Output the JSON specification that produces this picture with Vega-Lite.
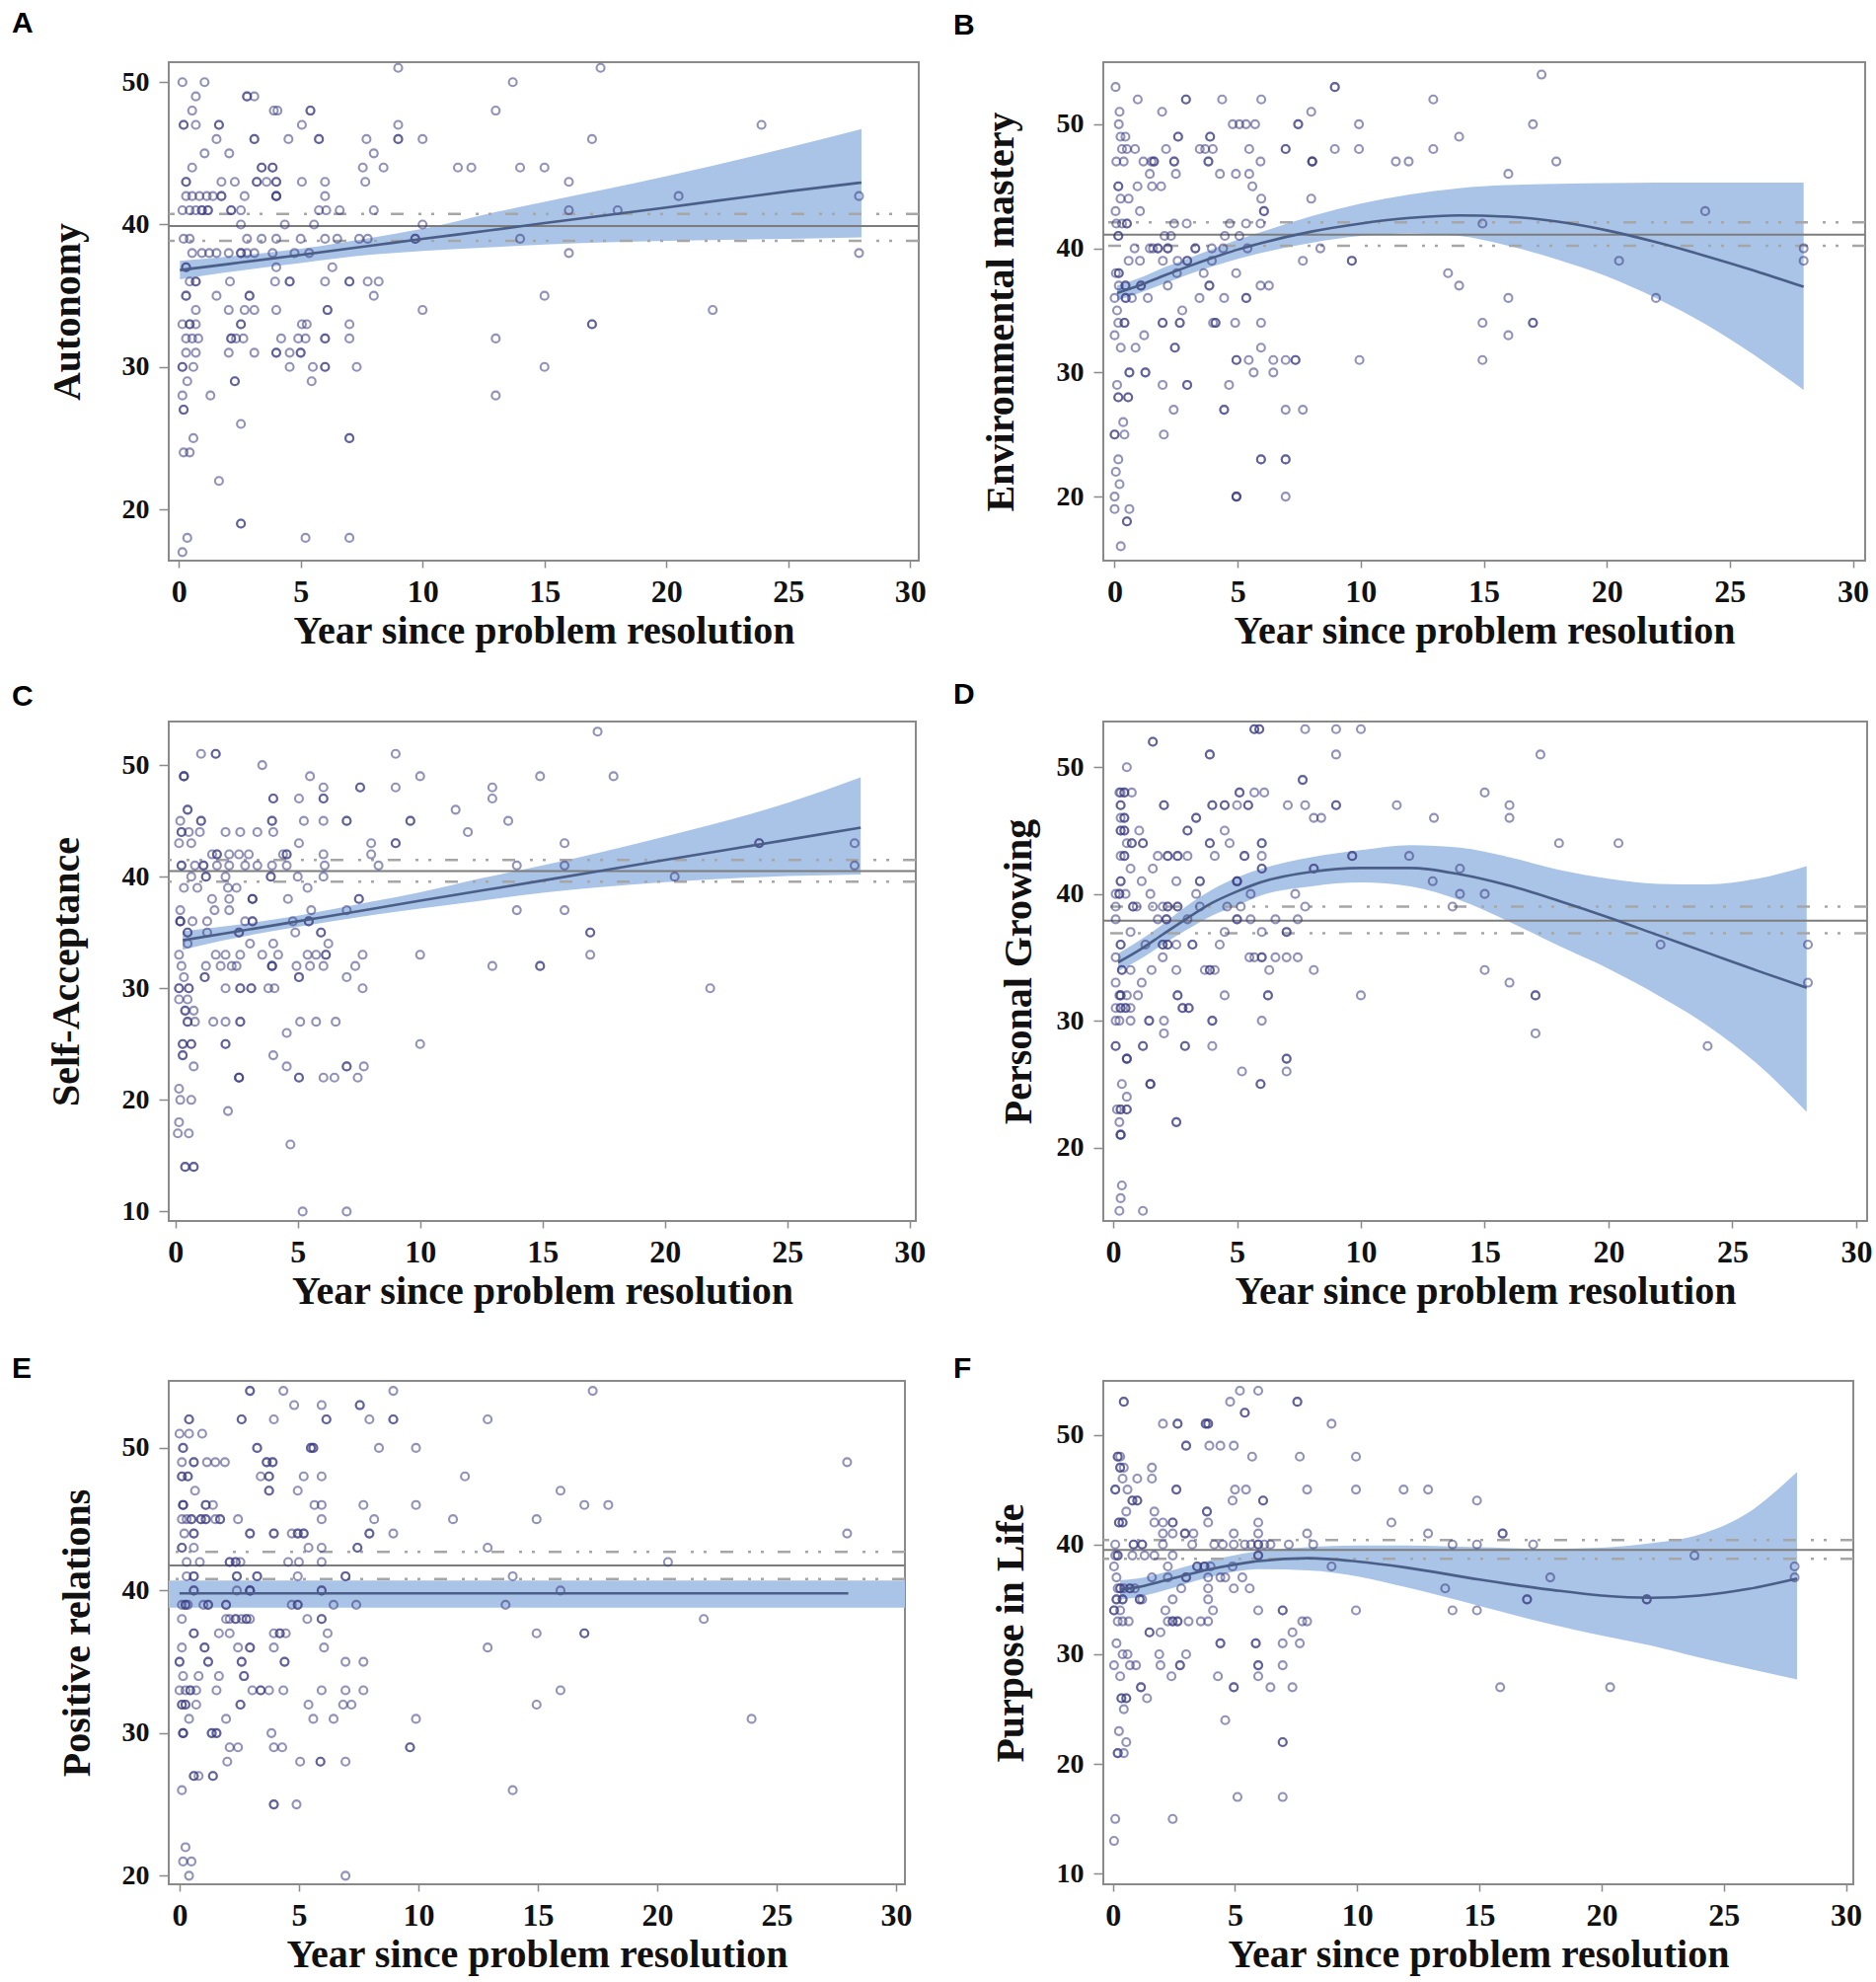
{
  "$schema": "https://vega.github.io/schema/vega-lite/v6.json",
  "autosize": {"type": "none"},
  "padding": {"left": 171, "top": 63, "right": 1730, "bottom": 1945},
  "columns": 2,
  "bounds": "flush",
  "align": "all",
  "spacing": {"row": 158, "column": 173},
  "config": {
    "view": {"stroke": "#8a8a8a", "strokeWidth": 2},
    "axis": {"grid": false, "domain": false, "tickColor": "#8a8a8a", "tickWidth": 1.5,
      "labelFont": "Liberation Serif", "labelFontWeight": "bold", "labelColor": "#111111",
      "titleFont": "Liberation Serif", "titleFontWeight": "bold", "titleColor": "#111111", "titleFontSize": 40,
      "labelFlush": false, "labelOverlap": false},
    "axisX": {"labelFontSize": 32, "tickSize": 7, "labelPadding": 9, "titlePadding": 4},
    "axisY": {"labelFontSize": 28, "tickSize": 10, "labelPadding": 10},
    "title": {"font": "Liberation Sans", "fontSize": 30, "fontWeight": "bold", "color": "#000000", "anchor": "start", "frame": "group"},
    "point": {"shape": "circle", "filled": false, "size": 64, "strokeWidth": 2.1, "color": "#3a3a80", "opacity": 0.55},
    "area": {"color": "#a9c4e6", "opacity": 1},
    "line": {"color": "#4a5e88", "strokeWidth": 2.6}
  },
  "datasets": {
    "A": [
      {"x":9.0,"y":51},{"x":17.3,"y":51},
      {"x":0.15,"y":50},{"x":1.06,"y":50},{"x":13.7,"y":50},
      {"x":0.7,"y":49},{"x":2.8,"y":49},{"x":2.8,"y":49},{"x":3.1,"y":49},
      {"x":0.55,"y":48},{"x":3.9,"y":48},{"x":4.05,"y":48},{"x":5.4,"y":48},{"x":5.4,"y":48},{"x":13.0,"y":48},
      {"x":0.2,"y":47},{"x":0.2,"y":47},{"x":0.7,"y":47},{"x":1.65,"y":47},{"x":1.65,"y":47},{"x":5.05,"y":47},{"x":9.0,"y":47},{"x":23.9,"y":47},
      {"x":1.55,"y":46},{"x":3.1,"y":46},{"x":3.1,"y":46},{"x":4.5,"y":46},{"x":5.75,"y":46},{"x":5.75,"y":46},{"x":7.7,"y":46},{"x":9.0,"y":46},{"x":9.0,"y":46},{"x":10.0,"y":46},{"x":16.95,"y":46},
      {"x":1.06,"y":45},{"x":2.07,"y":45},{"x":8.0,"y":45},
      {"x":0.55,"y":44},{"x":3.4,"y":44},{"x":3.4,"y":44},{"x":3.85,"y":44},{"x":3.85,"y":44},{"x":7.55,"y":44},{"x":8.4,"y":44},{"x":11.45,"y":44},{"x":12.0,"y":44},{"x":14.0,"y":44},{"x":15.0,"y":44},
      {"x":0.3,"y":43},{"x":0.3,"y":43},{"x":1.75,"y":43},{"x":2.3,"y":43},{"x":3.2,"y":43},{"x":3.2,"y":43},{"x":3.6,"y":43},{"x":4.0,"y":43},{"x":4.0,"y":43},{"x":5.05,"y":43},{"x":6.0,"y":43},{"x":7.65,"y":43},{"x":16.0,"y":43},
      {"x":0.3,"y":42},{"x":0.55,"y":42},{"x":0.85,"y":42},{"x":1.15,"y":42},{"x":1.4,"y":42},{"x":1.75,"y":42},{"x":1.75,"y":42},{"x":2.7,"y":42},{"x":4.0,"y":42},{"x":4.0,"y":42},{"x":4.0,"y":42},{"x":6.0,"y":42},{"x":20.5,"y":42},{"x":27.9,"y":42},
      {"x":0.15,"y":41},{"x":0.45,"y":41},{"x":0.7,"y":41},{"x":0.95,"y":41},{"x":0.95,"y":41},{"x":1.2,"y":41},{"x":1.2,"y":41},{"x":2.15,"y":41},{"x":2.15,"y":41},{"x":2.55,"y":41},{"x":5.75,"y":41},{"x":6.05,"y":41},{"x":6.6,"y":41},{"x":8.0,"y":41},{"x":16.0,"y":41},{"x":18.0,"y":41},
      {"x":2.55,"y":40},{"x":4.35,"y":40},{"x":5.55,"y":40},{"x":10.0,"y":40},
      {"x":0.2,"y":39},{"x":0.45,"y":39},{"x":2.8,"y":39},{"x":3.4,"y":39},{"x":4.0,"y":39},{"x":5.0,"y":39},{"x":6.0,"y":39},{"x":6.5,"y":39},{"x":7.4,"y":39},{"x":7.75,"y":39},{"x":9.7,"y":39},{"x":9.7,"y":39},{"x":14.0,"y":39},
      {"x":0.55,"y":38},{"x":0.95,"y":38},{"x":1.25,"y":38},{"x":1.55,"y":38},{"x":2.05,"y":38},{"x":2.55,"y":38},{"x":2.55,"y":38},{"x":2.8,"y":38},{"x":3.1,"y":38},{"x":3.85,"y":38},{"x":4.75,"y":38},{"x":5.35,"y":38},{"x":16.0,"y":38},{"x":27.9,"y":38},
      {"x":0.3,"y":37},{"x":0.3,"y":37},{"x":4.0,"y":37},{"x":6.3,"y":37},
      {"x":0.45,"y":36},{"x":0.7,"y":36},{"x":0.7,"y":36},{"x":2.1,"y":36},{"x":3.95,"y":36},{"x":4.55,"y":36},{"x":4.55,"y":36},{"x":6.0,"y":36},{"x":7.0,"y":36},{"x":7.0,"y":36},{"x":7.75,"y":36},{"x":8.2,"y":36},
      {"x":0.3,"y":35},{"x":0.3,"y":35},{"x":1.55,"y":35},{"x":2.9,"y":35},{"x":2.9,"y":35},{"x":8.0,"y":35},{"x":15.0,"y":35},
      {"x":0.7,"y":34},{"x":2.05,"y":34},{"x":2.7,"y":34},{"x":3.1,"y":34},{"x":4.0,"y":34},{"x":6.1,"y":34},{"x":6.1,"y":34},{"x":10.0,"y":34},{"x":21.9,"y":34},
      {"x":0.15,"y":33},{"x":0.45,"y":33},{"x":0.45,"y":33},{"x":0.7,"y":33},{"x":2.55,"y":33},{"x":2.55,"y":33},{"x":5.05,"y":33},{"x":5.25,"y":33},{"x":7.0,"y":33},{"x":16.95,"y":33},{"x":16.95,"y":33},
      {"x":0.3,"y":32},{"x":0.55,"y":32},{"x":0.8,"y":32},{"x":2.15,"y":32},{"x":2.15,"y":32},{"x":2.35,"y":32},{"x":2.65,"y":32},{"x":4.2,"y":32},{"x":4.9,"y":32},{"x":5.2,"y":32},{"x":6.0,"y":32},{"x":6.0,"y":32},{"x":7.0,"y":32},{"x":13.0,"y":32},
      {"x":0.3,"y":31},{"x":0.7,"y":31},{"x":2.05,"y":31},{"x":3.1,"y":31},{"x":4.0,"y":31},{"x":4.0,"y":31},{"x":4.55,"y":31},{"x":5.0,"y":31},{"x":5.0,"y":31},
      {"x":0.15,"y":30},{"x":0.15,"y":30},{"x":0.6,"y":30},{"x":4.55,"y":30},{"x":5.5,"y":30},{"x":6.0,"y":30},{"x":6.0,"y":30},{"x":7.3,"y":30},{"x":15.0,"y":30},
      {"x":0.35,"y":29},{"x":2.3,"y":29},{"x":2.3,"y":29},{"x":5.45,"y":29},
      {"x":0.15,"y":28},{"x":1.3,"y":28},{"x":13.0,"y":28},
      {"x":0.2,"y":27},{"x":0.2,"y":27},
      {"x":2.55,"y":26},
      {"x":0.6,"y":25},{"x":7.0,"y":25},{"x":7.0,"y":25},
      {"x":0.2,"y":24},{"x":0.45,"y":24},
      {"x":1.65,"y":22},
      {"x":2.55,"y":19},{"x":2.55,"y":19},
      {"x":0.35,"y":18},{"x":5.2,"y":18},{"x":7.0,"y":18},
      {"x":0.15,"y":17}
    ],
    "Afit": [
      {"x":0.05,"y":36.8,"lo":36.15,"hi":37.45},{"x":2,"y":37.22,"lo":36.65,"hi":37.75},{"x":5,"y":37.87,"lo":37.3,"hi":38.3},
      {"x":8,"y":38.54,"lo":37.9,"hi":39.1},{"x":10,"y":38.99,"lo":38.15,"hi":39.7},{"x":12.8,"y":39.6,"lo":38.4,"hi":40.8},
      {"x":15,"y":40.1,"lo":38.6,"hi":41.6},{"x":20,"y":41.2,"lo":38.85,"hi":43.4},{"x":25,"y":42.33,"lo":39.0,"hi":45.4},
      {"x":28,"y":42.95,"lo":39.1,"hi":46.7}
    ],
    "Aref": [{"kind":"mean","y":39.9},{"kind":"ci","y":40.75},{"kind":"ci","y":38.85}],
    "B": [
      {"x":17.35,"y":54},
      {"x":0.04,"y":53},{"x":8.95,"y":53},{"x":8.95,"y":53},
      {"x":0.94,"y":52},{"x":2.9,"y":52},{"x":2.9,"y":52},{"x":4.37,"y":52},{"x":5.96,"y":52},{"x":12.95,"y":52},
      {"x":0.2,"y":51},{"x":1.93,"y":51},{"x":7.99,"y":51},
      {"x":0.17,"y":50},{"x":4.8,"y":50},{"x":5.07,"y":50},{"x":5.34,"y":50},{"x":5.71,"y":50},{"x":7.46,"y":50},{"x":7.46,"y":50},{"x":9.93,"y":50},{"x":17.0,"y":50},
      {"x":0.24,"y":49},{"x":0.44,"y":49},{"x":2.58,"y":49},{"x":2.58,"y":49},{"x":3.88,"y":49},{"x":3.88,"y":49},{"x":14.0,"y":49},
      {"x":0.3,"y":48},{"x":0.5,"y":48},{"x":0.83,"y":48},{"x":2.09,"y":48},{"x":3.46,"y":48},{"x":3.68,"y":48},{"x":3.99,"y":48},{"x":5.47,"y":48},{"x":6.95,"y":48},{"x":6.95,"y":48},{"x":8.95,"y":48},{"x":9.93,"y":48},{"x":12.95,"y":48},
      {"x":0.07,"y":47},{"x":0.37,"y":47},{"x":1.17,"y":47},{"x":1.5,"y":47},{"x":1.6,"y":47},{"x":1.6,"y":47},{"x":2.42,"y":47},{"x":2.42,"y":47},{"x":3.81,"y":47},{"x":3.81,"y":47},{"x":5.93,"y":47},{"x":8.03,"y":47},{"x":8.03,"y":47},{"x":8.03,"y":47},{"x":11.43,"y":47},{"x":11.95,"y":47},{"x":17.95,"y":47},
      {"x":1.43,"y":46},{"x":2.49,"y":46},{"x":4.28,"y":46},{"x":4.93,"y":46},{"x":5.47,"y":46},{"x":16.0,"y":46},
      {"x":0.15,"y":45},{"x":0.15,"y":45},{"x":0.93,"y":45},{"x":1.52,"y":45},{"x":1.89,"y":45},{"x":5.6,"y":45},
      {"x":0.24,"y":44},{"x":0.57,"y":44},{"x":5.96,"y":44},{"x":7.99,"y":44},
      {"x":0.04,"y":43},{"x":1.03,"y":43},{"x":6.07,"y":43},{"x":6.07,"y":43},{"x":24.0,"y":43},
      {"x":0.07,"y":42},{"x":0.3,"y":42},{"x":0.5,"y":42},{"x":0.5,"y":42},{"x":2.42,"y":42},{"x":2.93,"y":42},{"x":4.68,"y":42},{"x":5.34,"y":42},{"x":5.93,"y":42},{"x":14.95,"y":42},
      {"x":0.15,"y":41},{"x":0.15,"y":41},{"x":2.03,"y":41},{"x":2.29,"y":41},{"x":4.48,"y":41},{"x":5.07,"y":41},
      {"x":0.81,"y":40},{"x":1.43,"y":40},{"x":1.56,"y":40},{"x":1.76,"y":40},{"x":1.76,"y":40},{"x":2.16,"y":40},{"x":2.16,"y":40},{"x":3.28,"y":40},{"x":3.28,"y":40},{"x":3.95,"y":40},{"x":4.41,"y":40},{"x":5.4,"y":40},{"x":8.36,"y":40},{"x":28.0,"y":40},
      {"x":0.57,"y":39},{"x":1.03,"y":39},{"x":1.96,"y":39},{"x":2.56,"y":39},{"x":2.95,"y":39},{"x":2.95,"y":39},{"x":3.95,"y":39},{"x":7.65,"y":39},{"x":9.64,"y":39},{"x":9.64,"y":39},{"x":20.5,"y":39},{"x":28.0,"y":39},
      {"x":0.05,"y":38},{"x":0.17,"y":38},{"x":0.17,"y":38},{"x":2.53,"y":38},{"x":3.62,"y":38},{"x":4.94,"y":38},{"x":13.55,"y":38},
      {"x":0.17,"y":37},{"x":0.44,"y":37},{"x":0.44,"y":37},{"x":1.07,"y":37},{"x":1.07,"y":37},{"x":2.16,"y":37},{"x":3.85,"y":37},{"x":3.85,"y":37},{"x":5.93,"y":37},{"x":6.27,"y":37},{"x":14.0,"y":37},
      {"x":0.0,"y":36},{"x":0.45,"y":36},{"x":0.45,"y":36},{"x":0.7,"y":36},{"x":1.35,"y":36},{"x":3.45,"y":36},{"x":4.45,"y":36},{"x":5.35,"y":36},{"x":5.35,"y":36},{"x":16.0,"y":36},{"x":22.0,"y":36},
      {"x":0.1,"y":35},{"x":2.75,"y":35},
      {"x":0.15,"y":34},{"x":0.4,"y":34},{"x":0.4,"y":34},{"x":1.95,"y":34},{"x":1.95,"y":34},{"x":2.65,"y":34},{"x":2.65,"y":34},{"x":4.0,"y":34},{"x":4.1,"y":34},{"x":4.1,"y":34},{"x":4.9,"y":34},{"x":5.95,"y":34},{"x":14.95,"y":34},{"x":17.0,"y":34},{"x":17.0,"y":34},
      {"x":0.0,"y":33},{"x":1.2,"y":33},{"x":16.0,"y":33},
      {"x":0.25,"y":32},{"x":0.85,"y":32},{"x":2.45,"y":32},{"x":2.45,"y":32},{"x":5.95,"y":32},
      {"x":4.95,"y":31},{"x":4.95,"y":31},{"x":5.45,"y":31},{"x":6.45,"y":31},{"x":6.95,"y":31},{"x":7.35,"y":31},{"x":7.35,"y":31},{"x":9.95,"y":31},{"x":14.95,"y":31},
      {"x":0.6,"y":30},{"x":0.6,"y":30},{"x":1.25,"y":30},{"x":1.25,"y":30},{"x":5.65,"y":30},{"x":6.45,"y":30},
      {"x":0.1,"y":29},{"x":1.95,"y":29},{"x":2.95,"y":29},{"x":2.95,"y":29},{"x":4.65,"y":29},
      {"x":0.15,"y":28},{"x":0.15,"y":28},{"x":0.55,"y":28},{"x":0.55,"y":28},
      {"x":2.4,"y":27},{"x":4.45,"y":27},{"x":4.45,"y":27},{"x":6.95,"y":27},{"x":7.65,"y":27},
      {"x":0.35,"y":26},
      {"x":0.0,"y":25},{"x":0.0,"y":25},{"x":0.4,"y":25},{"x":2.0,"y":25},
      {"x":0.15,"y":23},{"x":5.95,"y":23},{"x":5.95,"y":23},{"x":6.95,"y":23},{"x":6.95,"y":23},
      {"x":0.05,"y":22},
      {"x":0.2,"y":21},
      {"x":0.0,"y":20},{"x":4.95,"y":20},{"x":4.95,"y":20},{"x":4.95,"y":20},{"x":6.95,"y":20},
      {"x":0.0,"y":19},{"x":0.6,"y":19},
      {"x":0.5,"y":18},{"x":0.5,"y":18},
      {"x":0.25,"y":16}
    ],
    "Bfit": [
      {"x":0.1,"y":36.4,"lo":35.8,"hi":37.0},{"x":1,"y":37.0,"lo":36.4,"hi":37.6},{"x":2,"y":37.8,"lo":37.15,"hi":38.45},
      {"x":3,"y":38.55,"lo":37.9,"hi":39.2},{"x":4,"y":39.25,"lo":38.55,"hi":39.95},{"x":5,"y":39.9,"lo":39.15,"hi":40.7},
      {"x":6,"y":40.45,"lo":39.65,"hi":41.35},{"x":8,"y":41.35,"lo":40.45,"hi":42.6},{"x":10,"y":42.0,"lo":41.0,"hi":43.6},
      {"x":12,"y":42.45,"lo":41.2,"hi":44.35},{"x":14,"y":42.65,"lo":41.0,"hi":44.85},{"x":16,"y":42.55,"lo":40.2,"hi":45.1},
      {"x":18,"y":42.15,"lo":39.1,"hi":45.2},{"x":20,"y":41.45,"lo":37.75,"hi":45.25},{"x":22,"y":40.5,"lo":36.0,"hi":45.3},
      {"x":24,"y":39.4,"lo":33.9,"hi":45.3},{"x":26,"y":38.2,"lo":31.4,"hi":45.3},{"x":28,"y":36.9,"lo":28.6,"hi":45.3}
    ],
    "Bref": [{"kind":"mean","y":41.1},{"kind":"ci","y":42.1},{"kind":"ci","y":40.2}],
    "C": [
      {"x":17.25,"y":53},
      {"x":1.05,"y":51},{"x":1.65,"y":51},{"x":1.65,"y":51},{"x":9.0,"y":51},
      {"x":3.55,"y":50},
      {"x":0.35,"y":49},{"x":0.35,"y":49},{"x":0.35,"y":49},{"x":5.5,"y":49},{"x":10.0,"y":49},{"x":14.9,"y":49},{"x":17.9,"y":49},
      {"x":6.05,"y":48},{"x":7.55,"y":48},{"x":7.55,"y":48},{"x":9.0,"y":48},{"x":12.95,"y":48},
      {"x":4.0,"y":47},{"x":4.0,"y":47},{"x":5.05,"y":47},{"x":6.05,"y":47},{"x":6.05,"y":47},{"x":12.95,"y":47},
      {"x":0.5,"y":46},{"x":0.5,"y":46},{"x":11.45,"y":46},
      {"x":0.2,"y":45},{"x":1.05,"y":45},{"x":1.05,"y":45},{"x":3.95,"y":45},{"x":3.95,"y":45},{"x":5.25,"y":45},{"x":6.05,"y":45},{"x":7.0,"y":45},{"x":7.0,"y":45},{"x":9.6,"y":45},{"x":9.6,"y":45},{"x":13.6,"y":45},
      {"x":0.25,"y":44},{"x":0.25,"y":44},{"x":0.55,"y":44},{"x":1.0,"y":44},{"x":2.05,"y":44},{"x":2.65,"y":44},{"x":3.35,"y":44},{"x":4.0,"y":44},{"x":11.95,"y":44},
      {"x":0.15,"y":43},{"x":0.65,"y":43},{"x":5.05,"y":43},{"x":8.0,"y":43},{"x":9.0,"y":43},{"x":9.0,"y":43},{"x":15.9,"y":43},{"x":23.85,"y":43},{"x":23.85,"y":43},{"x":27.75,"y":43},
      {"x":1.5,"y":42},{"x":1.7,"y":42},{"x":1.7,"y":42},{"x":2.2,"y":42},{"x":2.6,"y":42},{"x":3.0,"y":42},{"x":4.4,"y":42},{"x":4.55,"y":42},{"x":4.55,"y":42},{"x":6.05,"y":42},{"x":8.0,"y":42},
      {"x":0.25,"y":41},{"x":0.25,"y":41},{"x":0.8,"y":41},{"x":1.15,"y":41},{"x":1.15,"y":41},{"x":1.7,"y":41},{"x":2.2,"y":41},{"x":2.85,"y":41},{"x":3.35,"y":41},{"x":3.95,"y":41},{"x":4.55,"y":41},{"x":6.1,"y":41},{"x":8.3,"y":41},{"x":13.95,"y":41},{"x":15.9,"y":41},{"x":27.75,"y":41},
      {"x":0.65,"y":40},{"x":1.25,"y":40},{"x":1.25,"y":40},{"x":2.05,"y":40},{"x":3.9,"y":40},{"x":3.9,"y":40},{"x":5.0,"y":40},{"x":6.05,"y":40},{"x":20.4,"y":40},
      {"x":0.35,"y":39},{"x":0.9,"y":39},{"x":2.15,"y":39},{"x":2.5,"y":39},{"x":5.4,"y":39},
      {"x":1.5,"y":38},{"x":2.2,"y":38},{"x":3.15,"y":38},{"x":3.15,"y":38},{"x":3.15,"y":38},{"x":4.6,"y":38},{"x":7.5,"y":38},{"x":7.5,"y":38},
      {"x":0.2,"y":37},{"x":1.6,"y":37},{"x":2.2,"y":37},{"x":5.55,"y":37},{"x":7.0,"y":37},{"x":13.95,"y":37},{"x":15.9,"y":37},
      {"x":0.2,"y":36},{"x":0.2,"y":36},{"x":0.2,"y":36},{"x":0.7,"y":36},{"x":1.3,"y":36},{"x":2.85,"y":36},{"x":3.15,"y":36},{"x":3.15,"y":36},{"x":4.8,"y":36},{"x":5.45,"y":36},{"x":5.45,"y":36},
      {"x":0.5,"y":35},{"x":0.5,"y":35},{"x":1.3,"y":35},{"x":2.6,"y":35},{"x":2.6,"y":35},{"x":4.9,"y":35},{"x":5.95,"y":35},{"x":5.95,"y":35},{"x":16.95,"y":35},{"x":16.95,"y":35},
      {"x":0.5,"y":34},{"x":3.05,"y":34},{"x":4.0,"y":34},{"x":6.25,"y":34},
      {"x":0.15,"y":33},{"x":1.65,"y":33},{"x":2.05,"y":33},{"x":2.65,"y":33},{"x":3.55,"y":33},{"x":4.2,"y":33},{"x":5.4,"y":33},{"x":5.75,"y":33},{"x":6.15,"y":33},{"x":6.15,"y":33},{"x":7.65,"y":33},{"x":10.0,"y":33},{"x":16.95,"y":33},
      {"x":0.25,"y":32},{"x":1.25,"y":32},{"x":1.85,"y":32},{"x":2.3,"y":32},{"x":2.5,"y":32},{"x":3.95,"y":32},{"x":3.95,"y":32},{"x":3.95,"y":32},{"x":4.95,"y":32},{"x":5.5,"y":32},{"x":6.05,"y":32},{"x":7.35,"y":32},{"x":12.95,"y":32},{"x":14.9,"y":32},{"x":14.9,"y":32},
      {"x":0.35,"y":31},{"x":1.2,"y":31},{"x":1.2,"y":31},{"x":5.05,"y":31},{"x":5.05,"y":31},{"x":7.0,"y":31},
      {"x":0.15,"y":30},{"x":0.15,"y":30},{"x":0.55,"y":30},{"x":0.55,"y":30},{"x":2.05,"y":30},{"x":2.65,"y":30},{"x":2.65,"y":30},{"x":3.1,"y":30},{"x":3.1,"y":30},{"x":3.8,"y":30},{"x":4.05,"y":30},{"x":7.65,"y":30},{"x":21.85,"y":30},
      {"x":0.15,"y":29},{"x":0.5,"y":29},
      {"x":0.4,"y":28},{"x":0.4,"y":28},{"x":0.75,"y":28},
      {"x":0.5,"y":27},{"x":0.5,"y":27},{"x":0.8,"y":27},{"x":1.55,"y":27},{"x":2.05,"y":27},{"x":2.65,"y":27},{"x":2.65,"y":27},{"x":5.1,"y":27},{"x":5.75,"y":27},{"x":6.55,"y":27},
      {"x":4.55,"y":26},
      {"x":0.3,"y":25},{"x":0.3,"y":25},{"x":0.65,"y":25},{"x":0.65,"y":25},{"x":2.05,"y":25},{"x":2.05,"y":25},{"x":10.0,"y":25},
      {"x":0.3,"y":24},{"x":0.3,"y":24},{"x":4.0,"y":24},
      {"x":0.75,"y":23},{"x":4.55,"y":23},{"x":7.0,"y":23},{"x":7.0,"y":23},{"x":7.7,"y":23},
      {"x":2.6,"y":22},{"x":2.6,"y":22},{"x":2.6,"y":22},{"x":5.05,"y":22},{"x":5.05,"y":22},{"x":6.05,"y":22},{"x":6.5,"y":22},{"x":7.45,"y":22},
      {"x":0.15,"y":21},
      {"x":0.2,"y":20},{"x":0.65,"y":20},
      {"x":2.15,"y":19},
      {"x":0.15,"y":18},
      {"x":0.1,"y":17},{"x":0.55,"y":17},
      {"x":4.7,"y":16},
      {"x":0.4,"y":14},{"x":0.4,"y":14},{"x":0.75,"y":14},{"x":0.75,"y":14},
      {"x":5.2,"y":10},{"x":7.0,"y":10}
    ],
    "Cfit": [
      {"x":0.3,"y":34.3,"lo":33.45,"hi":35.1},{"x":2,"y":34.9,"lo":34.3,"hi":35.55},{"x":5,"y":36.0,"lo":35.5,"hi":36.5},
      {"x":8,"y":37.1,"lo":36.55,"hi":37.75},{"x":10,"y":37.85,"lo":37.15,"hi":38.6},{"x":12.5,"y":38.75,"lo":37.85,"hi":39.85},
      {"x":15,"y":39.65,"lo":38.55,"hi":41.0},{"x":20,"y":41.5,"lo":39.5,"hi":43.6},{"x":25,"y":43.3,"lo":40.05,"hi":46.6},
      {"x":28,"y":44.4,"lo":40.2,"hi":48.9}
    ],
    "Cref": [{"kind":"mean","y":40.5},{"kind":"ci","y":41.5},{"kind":"ci","y":39.55}],
    "D": [
      {"x":5.7,"y":53},{"x":5.7,"y":53},{"x":5.9,"y":53},{"x":5.9,"y":53},{"x":7.75,"y":53},{"x":9.0,"y":53},{"x":10.0,"y":53},
      {"x":1.6,"y":52},{"x":1.6,"y":52},
      {"x":3.9,"y":51},{"x":3.9,"y":51},{"x":9.0,"y":51},{"x":17.25,"y":51},
      {"x":0.55,"y":50},
      {"x":7.65,"y":49},{"x":7.65,"y":49},
      {"x":0.25,"y":48},{"x":0.3,"y":48},{"x":0.45,"y":48},{"x":0.45,"y":48},{"x":0.75,"y":48},{"x":5.1,"y":48},{"x":5.1,"y":48},{"x":5.7,"y":48},{"x":6.1,"y":48},{"x":15.0,"y":48},
      {"x":0.3,"y":47},{"x":0.3,"y":47},{"x":2.05,"y":47},{"x":2.05,"y":47},{"x":4.0,"y":47},{"x":4.0,"y":47},{"x":4.5,"y":47},{"x":4.5,"y":47},{"x":5.0,"y":47},{"x":5.45,"y":47},{"x":5.45,"y":47},{"x":7.05,"y":47},{"x":7.75,"y":47},{"x":9.0,"y":47},{"x":9.0,"y":47},{"x":11.45,"y":47},{"x":16.0,"y":47},
      {"x":0.3,"y":46},{"x":0.45,"y":46},{"x":0.45,"y":46},{"x":3.35,"y":46},{"x":3.35,"y":46},{"x":8.1,"y":46},{"x":8.4,"y":46},{"x":12.95,"y":46},{"x":16.0,"y":46},
      {"x":0.3,"y":45},{"x":0.3,"y":45},{"x":0.45,"y":45},{"x":0.45,"y":45},{"x":1.05,"y":45},{"x":3.0,"y":45},{"x":3.0,"y":45},{"x":4.5,"y":45},
      {"x":0.55,"y":44},{"x":0.75,"y":44},{"x":0.75,"y":44},{"x":1.2,"y":44},{"x":1.2,"y":44},{"x":3.9,"y":44},{"x":3.9,"y":44},{"x":4.7,"y":44},{"x":6.0,"y":44},{"x":6.0,"y":44},{"x":18.0,"y":44},{"x":20.4,"y":44},
      {"x":0.3,"y":43},{"x":0.45,"y":43},{"x":0.45,"y":43},{"x":1.8,"y":43},{"x":2.2,"y":43},{"x":2.2,"y":43},{"x":2.6,"y":43},{"x":2.6,"y":43},{"x":3.0,"y":43},{"x":4.1,"y":43},{"x":5.3,"y":43},{"x":5.3,"y":43},{"x":6.0,"y":43},{"x":9.65,"y":43},{"x":9.65,"y":43},{"x":11.95,"y":43},
      {"x":0.7,"y":42},{"x":1.6,"y":42},{"x":6.0,"y":42},{"x":6.0,"y":42},{"x":8.1,"y":42},{"x":8.1,"y":42},{"x":14.0,"y":42},
      {"x":0.3,"y":41},{"x":0.3,"y":41},{"x":1.15,"y":41},{"x":2.55,"y":41},{"x":3.5,"y":41},{"x":3.5,"y":41},{"x":5.0,"y":41},{"x":5.0,"y":41},{"x":5.0,"y":41},{"x":12.9,"y":41},
      {"x":0.1,"y":40},{"x":0.25,"y":40},{"x":0.25,"y":40},{"x":0.5,"y":40},{"x":1.5,"y":40},{"x":3.35,"y":40},{"x":5.55,"y":40},{"x":7.35,"y":40},{"x":14.0,"y":40},{"x":15.0,"y":40},
      {"x":0.1,"y":39},{"x":0.8,"y":39},{"x":0.8,"y":39},{"x":0.95,"y":39},{"x":1.6,"y":39},{"x":2.0,"y":39},{"x":2.2,"y":39},{"x":2.2,"y":39},{"x":2.6,"y":39},{"x":2.6,"y":39},{"x":3.5,"y":39},{"x":4.6,"y":39},{"x":5.15,"y":39},{"x":7.75,"y":39},{"x":13.7,"y":39},
      {"x":0.1,"y":38},{"x":1.8,"y":38},{"x":2.15,"y":38},{"x":2.15,"y":38},{"x":3.0,"y":38},{"x":5.0,"y":38},{"x":5.0,"y":38},{"x":5.55,"y":38},{"x":6.55,"y":38},{"x":7.45,"y":38},
      {"x":0.7,"y":37},{"x":4.5,"y":37},{"x":6.0,"y":37},{"x":7.0,"y":37},{"x":7.0,"y":37},
      {"x":0.3,"y":36},{"x":0.3,"y":36},{"x":1.3,"y":36},{"x":2.0,"y":36},{"x":2.0,"y":36},{"x":2.2,"y":36},{"x":2.2,"y":36},{"x":2.55,"y":36},{"x":3.2,"y":36},{"x":3.2,"y":36},{"x":4.3,"y":36},{"x":22.1,"y":36},{"x":28.05,"y":36},
      {"x":0.1,"y":35},{"x":2.0,"y":35},{"x":5.5,"y":35},{"x":5.7,"y":35},{"x":6.0,"y":35},{"x":6.0,"y":35},{"x":6.55,"y":35},{"x":7.0,"y":35},{"x":7.45,"y":35},
      {"x":0.35,"y":34},{"x":0.35,"y":34},{"x":0.7,"y":34},{"x":1.55,"y":34},{"x":2.55,"y":34},{"x":3.7,"y":34},{"x":3.9,"y":34},{"x":3.9,"y":34},{"x":4.1,"y":34},{"x":6.3,"y":34},{"x":8.1,"y":34},{"x":15.0,"y":34},
      {"x":0.1,"y":33},{"x":1.15,"y":33},{"x":16.0,"y":33},{"x":28.05,"y":33},
      {"x":0.25,"y":32},{"x":0.3,"y":32},{"x":0.3,"y":32},{"x":0.55,"y":32},{"x":1.0,"y":32},{"x":2.6,"y":32},{"x":2.6,"y":32},{"x":4.5,"y":32},{"x":6.25,"y":32},{"x":6.25,"y":32},{"x":10.0,"y":32},{"x":17.05,"y":32},{"x":17.05,"y":32},
      {"x":0.1,"y":31},{"x":0.3,"y":31},{"x":0.3,"y":31},{"x":0.5,"y":31},{"x":0.5,"y":31},{"x":0.7,"y":31},{"x":2.8,"y":31},{"x":2.8,"y":31},{"x":3.05,"y":31},{"x":3.05,"y":31},
      {"x":0.1,"y":30},{"x":0.25,"y":30},{"x":0.7,"y":30},{"x":1.45,"y":30},{"x":1.45,"y":30},{"x":2.05,"y":30},{"x":4.0,"y":30},{"x":4.0,"y":30},{"x":6.0,"y":30},
      {"x":2.05,"y":29},{"x":17.05,"y":29},
      {"x":0.1,"y":28},{"x":0.1,"y":28},{"x":1.2,"y":28},{"x":1.2,"y":28},{"x":2.9,"y":28},{"x":2.9,"y":28},{"x":4.0,"y":28},{"x":24.0,"y":28},
      {"x":0.55,"y":27},{"x":0.55,"y":27},{"x":0.55,"y":27},{"x":7.0,"y":27},{"x":7.0,"y":27},
      {"x":5.2,"y":26},{"x":7.0,"y":26},
      {"x":0.35,"y":25},{"x":1.5,"y":25},{"x":1.5,"y":25},{"x":1.5,"y":25},{"x":5.95,"y":25},{"x":5.95,"y":25},
      {"x":0.55,"y":24},
      {"x":0.15,"y":23},{"x":0.3,"y":23},{"x":0.3,"y":23},{"x":0.55,"y":23},{"x":0.55,"y":23},
      {"x":0.25,"y":22},{"x":2.55,"y":22},{"x":2.55,"y":22},
      {"x":0.3,"y":21},{"x":0.3,"y":21},{"x":0.3,"y":21},
      {"x":0.35,"y":17},
      {"x":0.3,"y":16},
      {"x":0.25,"y":15},{"x":1.2,"y":15}
    ],
    "Dfit": [
      {"x":0.2,"y":34.6,"lo":33.9,"hi":35.3},{"x":1,"y":35.5,"lo":34.75,"hi":36.25},{"x":2,"y":36.8,"lo":36.0,"hi":37.6},
      {"x":3,"y":38.1,"lo":37.2,"hi":39.1},{"x":4,"y":39.3,"lo":38.3,"hi":40.35},{"x":5,"y":40.2,"lo":39.1,"hi":41.3},
      {"x":6,"y":40.95,"lo":39.9,"hi":42.0},{"x":8,"y":41.75,"lo":40.6,"hi":42.9},{"x":10,"y":42.05,"lo":40.9,"hi":43.45},
      {"x":12,"y":42.05,"lo":40.6,"hi":43.85},{"x":14,"y":41.55,"lo":39.5,"hi":43.65},{"x":16,"y":40.65,"lo":37.8,"hi":42.9},
      {"x":18,"y":39.45,"lo":35.9,"hi":41.9},{"x":20,"y":38.15,"lo":34.1,"hi":41.2},{"x":22,"y":36.75,"lo":32.0,"hi":40.8},
      {"x":24,"y":35.35,"lo":29.6,"hi":40.75},{"x":26,"y":33.95,"lo":26.6,"hi":41.2},{"x":28,"y":32.6,"lo":22.8,"hi":42.2}
    ],
    "Dref": [{"kind":"mean","y":37.9},{"kind":"ci","y":39.0},{"kind":"ci","y":36.9}],
    "E": [
      {"x":2.95,"y":54},{"x":2.95,"y":54},{"x":4.35,"y":54},{"x":8.95,"y":54},{"x":17.3,"y":54},
      {"x":4.8,"y":53},{"x":5.95,"y":53},{"x":7.55,"y":53},{"x":7.55,"y":53},
      {"x":0.4,"y":52},{"x":0.4,"y":52},{"x":2.6,"y":52},{"x":2.6,"y":52},{"x":3.95,"y":52},{"x":6.15,"y":52},{"x":6.15,"y":52},{"x":7.95,"y":52},{"x":8.95,"y":52},{"x":8.95,"y":52},{"x":12.9,"y":52},
      {"x":0.0,"y":51},{"x":0.4,"y":51},{"x":0.95,"y":51},
      {"x":0.15,"y":50},{"x":0.15,"y":50},{"x":3.25,"y":50},{"x":3.25,"y":50},{"x":5.5,"y":50},{"x":5.5,"y":50},{"x":5.6,"y":50},{"x":5.6,"y":50},{"x":8.35,"y":50},{"x":9.9,"y":50},
      {"x":0.1,"y":49},{"x":0.6,"y":49},{"x":0.6,"y":49},{"x":1.15,"y":49},{"x":1.5,"y":49},{"x":1.9,"y":49},{"x":3.65,"y":49},{"x":3.65,"y":49},{"x":3.9,"y":49},{"x":3.9,"y":49},{"x":27.95,"y":49},
      {"x":0.1,"y":48},{"x":0.1,"y":48},{"x":0.35,"y":48},{"x":0.35,"y":48},{"x":3.4,"y":48},{"x":3.75,"y":48},{"x":3.75,"y":48},{"x":5.2,"y":48},{"x":5.95,"y":48},{"x":11.95,"y":48},
      {"x":0.65,"y":47},{"x":3.75,"y":47},{"x":3.75,"y":47},{"x":4.95,"y":47},{"x":15.95,"y":47},
      {"x":0.15,"y":46},{"x":0.15,"y":46},{"x":0.15,"y":46},{"x":1.1,"y":46},{"x":1.1,"y":46},{"x":1.4,"y":46},{"x":5.65,"y":46},{"x":5.95,"y":46},{"x":7.7,"y":46},{"x":9.9,"y":46},{"x":16.95,"y":46},{"x":17.95,"y":46},
      {"x":0.1,"y":45},{"x":0.3,"y":45},{"x":0.5,"y":45},{"x":0.5,"y":45},{"x":0.9,"y":45},{"x":0.9,"y":45},{"x":1.1,"y":45},{"x":1.1,"y":45},{"x":1.5,"y":45},{"x":1.7,"y":45},{"x":1.7,"y":45},{"x":2.45,"y":45},{"x":5.95,"y":45},{"x":8.15,"y":45},{"x":11.45,"y":45},{"x":14.95,"y":45},
      {"x":0.2,"y":44},{"x":0.6,"y":44},{"x":0.6,"y":44},{"x":2.95,"y":44},{"x":2.95,"y":44},{"x":3.95,"y":44},{"x":3.95,"y":44},{"x":4.7,"y":44},{"x":4.95,"y":44},{"x":4.95,"y":44},{"x":5.2,"y":44},{"x":5.2,"y":44},{"x":7.95,"y":44},{"x":7.95,"y":44},{"x":8.95,"y":44},{"x":27.95,"y":44},
      {"x":0.1,"y":43},{"x":0.1,"y":43},{"x":0.6,"y":43},{"x":5.4,"y":43},{"x":5.95,"y":43},{"x":7.45,"y":43},{"x":7.45,"y":43},{"x":12.9,"y":43},
      {"x":0.3,"y":42},{"x":0.85,"y":42},{"x":2.1,"y":42},{"x":2.1,"y":42},{"x":2.35,"y":42},{"x":2.35,"y":42},{"x":2.55,"y":42},{"x":4.55,"y":42},{"x":5.0,"y":42},{"x":5.95,"y":42},{"x":20.45,"y":42},
      {"x":0.3,"y":41},{"x":0.6,"y":41},{"x":0.6,"y":41},{"x":2.4,"y":41},{"x":2.4,"y":41},{"x":3.25,"y":41},{"x":3.25,"y":41},{"x":4.95,"y":41},{"x":6.95,"y":41},{"x":6.95,"y":41},{"x":13.95,"y":41},
      {"x":0.6,"y":40},{"x":0.6,"y":40},{"x":2.4,"y":40},{"x":2.95,"y":40},{"x":2.95,"y":40},{"x":2.95,"y":40},{"x":5.95,"y":40},{"x":5.95,"y":40},{"x":15.95,"y":40},
      {"x":0.1,"y":39},{"x":0.25,"y":39},{"x":0.25,"y":39},{"x":0.35,"y":39},{"x":1.0,"y":39},{"x":1.2,"y":39},{"x":1.2,"y":39},{"x":1.95,"y":39},{"x":1.95,"y":39},{"x":4.7,"y":39},{"x":4.95,"y":39},{"x":4.95,"y":39},{"x":6.45,"y":39},{"x":7.4,"y":39},{"x":13.65,"y":39},
      {"x":0.1,"y":38},{"x":1.95,"y":38},{"x":2.1,"y":38},{"x":2.35,"y":38},{"x":2.35,"y":38},{"x":2.6,"y":38},{"x":2.8,"y":38},{"x":2.8,"y":38},{"x":2.95,"y":38},{"x":5.35,"y":38},{"x":5.95,"y":38},{"x":5.95,"y":38},{"x":21.95,"y":38},
      {"x":0.6,"y":37},{"x":0.6,"y":37},{"x":1.65,"y":37},{"x":2.1,"y":37},{"x":3.95,"y":37},{"x":4.2,"y":37},{"x":4.2,"y":37},{"x":4.45,"y":37},{"x":6.2,"y":37},{"x":14.95,"y":37},{"x":16.95,"y":37},{"x":16.95,"y":37},
      {"x":0.1,"y":36},{"x":1.05,"y":36},{"x":1.05,"y":36},{"x":2.45,"y":36},{"x":2.95,"y":36},{"x":2.95,"y":36},{"x":3.95,"y":36},{"x":6.05,"y":36},{"x":12.9,"y":36},
      {"x":0.0,"y":35},{"x":0.0,"y":35},{"x":1.2,"y":35},{"x":1.2,"y":35},{"x":2.6,"y":35},{"x":2.6,"y":35},{"x":4.4,"y":35},{"x":4.4,"y":35},{"x":6.95,"y":35},{"x":7.7,"y":35},
      {"x":0.15,"y":34},{"x":0.8,"y":34},{"x":1.65,"y":34},{"x":2.7,"y":34},{"x":2.7,"y":34},
      {"x":0.0,"y":33},{"x":0.25,"y":33},{"x":0.45,"y":33},{"x":0.45,"y":33},{"x":0.7,"y":33},{"x":1.55,"y":33},{"x":3.05,"y":33},{"x":3.4,"y":33},{"x":3.4,"y":33},{"x":3.75,"y":33},{"x":4.35,"y":33},{"x":5.95,"y":33},{"x":6.95,"y":33},{"x":7.7,"y":33},{"x":15.95,"y":33},
      {"x":0.1,"y":32},{"x":0.1,"y":32},{"x":0.25,"y":32},{"x":0.25,"y":32},{"x":0.7,"y":32},{"x":2.55,"y":32},{"x":2.55,"y":32},{"x":5.4,"y":32},{"x":6.85,"y":32},{"x":7.2,"y":32},{"x":14.95,"y":32},
      {"x":0.4,"y":31},{"x":1.95,"y":31},{"x":5.6,"y":31},{"x":6.45,"y":31},{"x":9.9,"y":31},{"x":23.95,"y":31},
      {"x":0.15,"y":30},{"x":0.15,"y":30},{"x":0.15,"y":30},{"x":1.35,"y":30},{"x":1.35,"y":30},{"x":1.55,"y":30},{"x":1.55,"y":30},{"x":3.85,"y":30},
      {"x":2.1,"y":29},{"x":2.45,"y":29},{"x":3.95,"y":29},{"x":4.3,"y":29},{"x":9.65,"y":29},{"x":9.65,"y":29},
      {"x":2.0,"y":28},{"x":5.05,"y":28},{"x":5.9,"y":28},{"x":5.9,"y":28},{"x":6.95,"y":28},
      {"x":0.6,"y":27},{"x":0.6,"y":27},{"x":0.8,"y":27},{"x":1.4,"y":27},{"x":1.4,"y":27},
      {"x":0.1,"y":26},{"x":13.95,"y":26},
      {"x":3.95,"y":25},{"x":3.95,"y":25},{"x":4.9,"y":25},
      {"x":0.25,"y":22},
      {"x":0.15,"y":21},{"x":0.5,"y":21},
      {"x":0.4,"y":20},{"x":6.95,"y":20}
    ],
    "Eband": [{"x":-0.45,"lo":38.8,"hi":40.7},{"x":30.37,"lo":38.8,"hi":40.7}],
    "Efit": [{"x":0,"y":39.8},{"x":28,"y":39.8}],
    "Eref": [{"kind":"mean","y":41.75},{"kind":"ci","y":42.7},{"kind":"ci","y":40.8}],
    "F": [
      {"x":5.2,"y":54},{"x":5.95,"y":54},
      {"x":0.45,"y":53},{"x":0.45,"y":53},{"x":4.8,"y":53},{"x":7.55,"y":53},{"x":7.55,"y":53},
      {"x":5.4,"y":52},{"x":5.4,"y":52},
      {"x":2.05,"y":51},{"x":2.65,"y":51},{"x":2.65,"y":51},{"x":3.8,"y":51},{"x":3.8,"y":51},{"x":3.9,"y":51},{"x":3.9,"y":51},{"x":8.95,"y":51},
      {"x":3.0,"y":49},{"x":3.0,"y":49},{"x":3.95,"y":49},{"x":4.4,"y":49},{"x":4.95,"y":49},
      {"x":0.2,"y":48},{"x":0.2,"y":48},{"x":0.3,"y":48},{"x":5.7,"y":48},{"x":7.65,"y":48},{"x":9.95,"y":48},
      {"x":0.3,"y":47},{"x":0.3,"y":47},{"x":0.45,"y":47},{"x":1.6,"y":47},
      {"x":0.4,"y":46},{"x":1.0,"y":46},{"x":1.6,"y":46},
      {"x":0.1,"y":45},{"x":0.1,"y":45},{"x":0.6,"y":45},{"x":2.6,"y":45},{"x":2.6,"y":45},{"x":5.0,"y":45},{"x":5.45,"y":45},{"x":7.95,"y":45},{"x":9.95,"y":45},{"x":11.9,"y":45},{"x":12.9,"y":45},
      {"x":0.8,"y":44},{"x":0.8,"y":44},{"x":1.0,"y":44},{"x":1.0,"y":44},{"x":4.9,"y":44},{"x":6.15,"y":44},{"x":6.15,"y":44},{"x":14.9,"y":44},
      {"x":0.55,"y":43},{"x":1.7,"y":43},{"x":3.85,"y":43},{"x":3.85,"y":43},
      {"x":0.25,"y":42},{"x":0.25,"y":42},{"x":0.4,"y":42},{"x":0.4,"y":42},{"x":1.7,"y":42},{"x":2.05,"y":42},{"x":2.45,"y":42},{"x":2.45,"y":42},{"x":3.9,"y":42},{"x":5.95,"y":42},{"x":11.4,"y":42},
      {"x":2.05,"y":41},{"x":2.45,"y":41},{"x":2.95,"y":41},{"x":2.95,"y":41},{"x":3.3,"y":41},{"x":4.95,"y":41},{"x":5.95,"y":41},{"x":7.95,"y":41},{"x":12.9,"y":41},{"x":15.95,"y":41},{"x":15.95,"y":41},
      {"x":0.1,"y":40},{"x":0.85,"y":40},{"x":0.85,"y":40},{"x":1.2,"y":40},{"x":1.2,"y":40},{"x":2.05,"y":40},{"x":3.25,"y":40},{"x":4.15,"y":40},{"x":4.5,"y":40},{"x":4.95,"y":40},{"x":5.4,"y":40},{"x":5.65,"y":40},{"x":5.95,"y":40},{"x":5.95,"y":40},{"x":6.2,"y":40},{"x":6.45,"y":40},{"x":7.2,"y":40},{"x":8.2,"y":40},{"x":13.9,"y":40},{"x":14.9,"y":40},{"x":17.2,"y":40},
      {"x":0.1,"y":39},{"x":0.2,"y":39},{"x":0.2,"y":39},{"x":0.8,"y":39},{"x":1.3,"y":39},{"x":1.7,"y":39},{"x":2.45,"y":39},{"x":5.95,"y":39},{"x":5.95,"y":39},{"x":23.8,"y":39},
      {"x":0.05,"y":38},{"x":2.25,"y":38},{"x":3.45,"y":38},{"x":3.45,"y":38},{"x":3.75,"y":38},{"x":3.75,"y":38},{"x":4.0,"y":38},{"x":4.9,"y":38},{"x":8.95,"y":38},{"x":27.9,"y":38},
      {"x":0.15,"y":37},{"x":1.6,"y":37},{"x":2.25,"y":37},{"x":3.0,"y":37},{"x":3.0,"y":37},{"x":3.9,"y":37},{"x":4.4,"y":37},{"x":4.6,"y":37},{"x":5.3,"y":37},{"x":17.9,"y":37},{"x":27.9,"y":37},
      {"x":0.2,"y":36},{"x":0.3,"y":36},{"x":0.3,"y":36},{"x":0.45,"y":36},{"x":0.7,"y":36},{"x":0.7,"y":36},{"x":0.9,"y":36},{"x":2.8,"y":36},{"x":3.9,"y":36},{"x":4.95,"y":36},{"x":5.6,"y":36},{"x":13.6,"y":36},
      {"x":0.15,"y":35},{"x":0.15,"y":35},{"x":0.4,"y":35},{"x":0.4,"y":35},{"x":1.1,"y":35},{"x":1.1,"y":35},{"x":1.2,"y":35},{"x":2.45,"y":35},{"x":3.9,"y":35},{"x":16.95,"y":35},{"x":16.95,"y":35},{"x":21.85,"y":35},{"x":21.85,"y":35},
      {"x":0.05,"y":34},{"x":0.05,"y":34},{"x":0.3,"y":34},{"x":2.15,"y":34},{"x":4.1,"y":34},{"x":5.95,"y":34},{"x":6.95,"y":34},{"x":6.95,"y":34},{"x":9.95,"y":34},{"x":13.9,"y":34},{"x":14.9,"y":34},
      {"x":0.2,"y":33},{"x":0.4,"y":33},{"x":0.65,"y":33},{"x":2.25,"y":33},{"x":2.45,"y":33},{"x":2.45,"y":33},{"x":2.65,"y":33},{"x":2.65,"y":33},{"x":3.1,"y":33},{"x":3.6,"y":33},{"x":3.9,"y":33},{"x":7.75,"y":33},{"x":7.95,"y":33},
      {"x":1.5,"y":32},{"x":1.5,"y":32},{"x":1.95,"y":32},{"x":7.35,"y":32},
      {"x":0.15,"y":31},{"x":4.4,"y":31},{"x":4.4,"y":31},{"x":5.85,"y":31},{"x":5.85,"y":31},{"x":6.95,"y":31},{"x":7.65,"y":31},
      {"x":0.4,"y":30},{"x":0.6,"y":30},{"x":1.9,"y":30},{"x":3.0,"y":30},
      {"x":0.05,"y":29},{"x":0.7,"y":29},{"x":0.95,"y":29},{"x":1.95,"y":29},{"x":2.75,"y":29},{"x":2.75,"y":29},{"x":5.95,"y":29},{"x":5.95,"y":29},{"x":6.95,"y":29},
      {"x":0.3,"y":28},{"x":2.4,"y":28},{"x":4.3,"y":28},{"x":5.95,"y":28},
      {"x":1.15,"y":27},{"x":1.15,"y":27},{"x":4.95,"y":27},{"x":4.95,"y":27},{"x":6.45,"y":27},{"x":7.35,"y":27},{"x":15.85,"y":27},{"x":20.35,"y":27},
      {"x":0.35,"y":26},{"x":0.35,"y":26},{"x":0.55,"y":26},{"x":0.55,"y":26},{"x":1.4,"y":26},
      {"x":0.45,"y":25},
      {"x":4.6,"y":24},
      {"x":0.25,"y":23},
      {"x":0.55,"y":22},{"x":6.95,"y":22},{"x":6.95,"y":22},
      {"x":0.2,"y":21},{"x":0.2,"y":21},{"x":0.45,"y":21},
      {"x":5.1,"y":17},{"x":6.95,"y":17},
      {"x":0.1,"y":15},{"x":2.45,"y":15},
      {"x":0.05,"y":13}
    ],
    "Ffit": [
      {"x":0.3,"y":35.9,"lo":35.0,"hi":36.75},{"x":1,"y":36.1,"lo":35.2,"hi":36.9},{"x":2,"y":36.65,"lo":35.75,"hi":37.4},
      {"x":4,"y":37.75,"lo":37.05,"hi":38.55},{"x":6,"y":38.5,"lo":37.75,"hi":39.4},{"x":8,"y":38.75,"lo":37.65,"hi":39.75},
      {"x":10,"y":38.45,"lo":37.1,"hi":39.9},{"x":12,"y":37.9,"lo":36.1,"hi":39.9},{"x":15,"y":36.8,"lo":34.4,"hi":39.75},
      {"x":18,"y":35.85,"lo":32.7,"hi":39.6},{"x":20,"y":35.35,"lo":31.7,"hi":39.7},{"x":22,"y":35.15,"lo":30.8,"hi":40.1},
      {"x":24,"y":35.35,"lo":29.7,"hi":40.9},{"x":26,"y":35.95,"lo":28.7,"hi":42.9},{"x":28,"y":36.9,"lo":27.7,"hi":46.6}
    ],
    "Fref": [{"kind":"mean","y":39.5},{"kind":"ci","y":40.4},{"kind":"ci","y":38.7}]
  },
  "concat": [
    {
      "title": {"text": "A", "dx": -159, "offset": 22},
      "width": 760, "height": 505,
      "layer": [
        {"data": {"name": "Afit"}, "mark": {"type": "area", "interpolate": "monotone"},
          "encoding": {
            "x": {"field": "x", "type": "quantitative", "scale": {"domain": [-0.41, 30.35], "nice": false, "zero": false}, "axis": {"values": [0,5,10,15,20,25,30], "title": "Year since problem resolution"}},
            "y": {"field": "lo", "type": "quantitative", "scale": {"domain": [16.4, 51.4], "nice": false, "zero": false}, "axis": {"values": [20,30,40,50], "title": "Autonomy", "titlePadding": 35}},
            "y2": {"field": "hi"}}},
        {"data": {"name": "Aref"}, "transform": [{"filter": "datum.kind == 'ci'"}], "mark": {"type": "rule", "color": "#a6a6a6", "strokeWidth": 2.5, "strokeDash": [13, 14, 3, 10, 3, 15]}, "encoding": {"y": {"field": "y", "type": "quantitative"}}},
        {"data": {"name": "Aref"}, "transform": [{"filter": "datum.kind == 'mean'"}], "mark": {"type": "rule", "color": "#7c7c7c", "strokeWidth": 2}, "encoding": {"y": {"field": "y", "type": "quantitative"}}},
        {"data": {"name": "A"}, "mark": "point", "encoding": {"x": {"field": "x", "type": "quantitative"}, "y": {"field": "y", "type": "quantitative"}}},
        {"data": {"name": "Afit"}, "mark": {"type": "line", "interpolate": "monotone"}, "encoding": {"x": {"field": "x", "type": "quantitative"}, "y": {"field": "y", "type": "quantitative"}}}
      ]
    },
    {
      "title": {"text": "B", "dx": -152, "offset": 22},
      "width": 772, "height": 505,
      "layer": [
        {"data": {"name": "Bfit"}, "mark": {"type": "area", "interpolate": "monotone"},
          "encoding": {
            "x": {"field": "x", "type": "quantitative", "scale": {"domain": [-0.46, 30.5], "nice": false, "zero": false}, "axis": {"values": [0,5,10,15,20,25,30], "title": "Year since problem resolution"}},
            "y": {"field": "lo", "type": "quantitative", "scale": {"domain": [14.84, 55.0], "nice": false, "zero": false}, "axis": {"values": [20,30,40,50], "title": "Environmental mastery", "titlePadding": 36}},
            "y2": {"field": "hi"}}},
        {"data": {"name": "Bref"}, "transform": [{"filter": "datum.kind == 'ci'"}], "mark": {"type": "rule", "color": "#a6a6a6", "strokeWidth": 2.5, "strokeDash": [13, 14, 3, 10, 3, 15]}, "encoding": {"y": {"field": "y", "type": "quantitative"}}},
        {"data": {"name": "Bref"}, "transform": [{"filter": "datum.kind == 'mean'"}], "mark": {"type": "rule", "color": "#7c7c7c", "strokeWidth": 2}, "encoding": {"y": {"field": "y", "type": "quantitative"}}},
        {"data": {"name": "B"}, "mark": "point", "encoding": {"x": {"field": "x", "type": "quantitative"}, "y": {"field": "y", "type": "quantitative"}}},
        {"data": {"name": "Bfit"}, "mark": {"type": "line", "interpolate": "monotone"}, "encoding": {"x": {"field": "x", "type": "quantitative"}, "y": {"field": "y", "type": "quantitative"}}}
      ]
    },
    {
      "title": {"text": "C", "dx": -159, "offset": 10},
      "width": 757, "height": 506,
      "layer": [
        {"data": {"name": "Cfit"}, "mark": {"type": "area", "interpolate": "monotone"},
          "encoding": {
            "x": {"field": "x", "type": "quantitative", "scale": {"domain": [-0.27, 30.25], "nice": false, "zero": false}, "axis": {"values": [0,5,10,15,20,25,30], "title": "Year since problem resolution"}},
            "y": {"field": "lo", "type": "quantitative", "scale": {"domain": [9.15, 53.9], "nice": false, "zero": false}, "axis": {"values": [10,20,30,40,50], "title": "Self-Acceptance", "titlePadding": 36}},
            "y2": {"field": "hi"}}},
        {"data": {"name": "Cref"}, "transform": [{"filter": "datum.kind == 'ci'"}], "mark": {"type": "rule", "color": "#a6a6a6", "strokeWidth": 2.5, "strokeDash": [13, 14, 3, 10, 3, 15]}, "encoding": {"y": {"field": "y", "type": "quantitative"}}},
        {"data": {"name": "Cref"}, "transform": [{"filter": "datum.kind == 'mean'"}], "mark": {"type": "rule", "color": "#7c7c7c", "strokeWidth": 2}, "encoding": {"y": {"field": "y", "type": "quantitative"}}},
        {"data": {"name": "C"}, "mark": "point", "encoding": {"x": {"field": "x", "type": "quantitative"}, "y": {"field": "y", "type": "quantitative"}}},
        {"data": {"name": "Cfit"}, "mark": {"type": "line", "interpolate": "monotone"}, "encoding": {"x": {"field": "x", "type": "quantitative"}, "y": {"field": "y", "type": "quantitative"}}}
      ]
    },
    {
      "title": {"text": "D", "dx": -152, "offset": 12},
      "width": 774, "height": 506,
      "layer": [
        {"data": {"name": "Dfit"}, "mark": {"type": "area", "interpolate": "monotone"},
          "encoding": {
            "x": {"field": "x", "type": "quantitative", "scale": {"domain": [-0.4, 30.44], "nice": false, "zero": false}, "axis": {"values": [0,5,10,15,20,25,30], "title": "Year since problem resolution"}},
            "y": {"field": "lo", "type": "quantitative", "scale": {"domain": [14.2, 53.6], "nice": false, "zero": false}, "axis": {"values": [20,30,40,50], "title": "Personal Growing", "titlePadding": 18}},
            "y2": {"field": "hi"}}},
        {"data": {"name": "Dref"}, "transform": [{"filter": "datum.kind == 'ci'"}], "mark": {"type": "rule", "color": "#a6a6a6", "strokeWidth": 2.5, "strokeDash": [13, 14, 3, 10, 3, 15]}, "encoding": {"y": {"field": "y", "type": "quantitative"}}},
        {"data": {"name": "Dref"}, "transform": [{"filter": "datum.kind == 'mean'"}], "mark": {"type": "rule", "color": "#7c7c7c", "strokeWidth": 2}, "encoding": {"y": {"field": "y", "type": "quantitative"}}},
        {"data": {"name": "D"}, "mark": "point", "encoding": {"x": {"field": "x", "type": "quantitative"}, "y": {"field": "y", "type": "quantitative"}}},
        {"data": {"name": "Dfit"}, "mark": {"type": "line", "interpolate": "monotone"}, "encoding": {"x": {"field": "x", "type": "quantitative"}, "y": {"field": "y", "type": "quantitative"}}}
      ]
    },
    {
      "title": {"text": "E", "dx": -159, "offset": -3},
      "width": 746, "height": 510,
      "layer": [
        {"data": {"name": "Eband"}, "mark": "area",
          "encoding": {
            "x": {"field": "x", "type": "quantitative", "scale": {"domain": [-0.45, 30.37], "nice": false, "zero": false}, "axis": {"values": [0,5,10,15,20,25,30], "title": "Year since problem resolution"}},
            "y": {"field": "lo", "type": "quantitative", "scale": {"domain": [19.4, 54.7], "nice": false, "zero": false}, "axis": {"values": [20,30,40,50], "title": "Positive relations", "titlePadding": 25}},
            "y2": {"field": "hi"}}},
        {"data": {"name": "Eref"}, "transform": [{"filter": "datum.kind == 'ci'"}], "mark": {"type": "rule", "color": "#a6a6a6", "strokeWidth": 2.5, "strokeDash": [13, 14, 3, 10, 3, 15]}, "encoding": {"y": {"field": "y", "type": "quantitative"}}},
        {"data": {"name": "Eref"}, "transform": [{"filter": "datum.kind == 'mean'"}], "mark": {"type": "rule", "color": "#7c7c7c", "strokeWidth": 2}, "encoding": {"y": {"field": "y", "type": "quantitative"}}},
        {"data": {"name": "E"}, "mark": "point", "encoding": {"x": {"field": "x", "type": "quantitative"}, "y": {"field": "y", "type": "quantitative"}}},
        {"data": {"name": "Efit"}, "mark": "line", "encoding": {"x": {"field": "x", "type": "quantitative"}, "y": {"field": "y", "type": "quantitative"}}}
      ]
    },
    {
      "title": {"text": "F", "dx": -152, "offset": -3},
      "width": 760, "height": 510,
      "layer": [
        {"data": {"name": "Ffit"}, "mark": {"type": "area", "interpolate": "monotone"},
          "encoding": {
            "x": {"field": "x", "type": "quantitative", "scale": {"domain": [-0.39, 30.3], "nice": false, "zero": false}, "axis": {"values": [0,5,10,15,20,25,30], "title": "Year since problem resolution"}},
            "y": {"field": "lo", "type": "quantitative", "scale": {"domain": [9.05, 54.9], "nice": false, "zero": false}, "axis": {"values": [10,20,30,40,50], "title": "Purpose in Life", "titlePadding": 26}},
            "y2": {"field": "hi"}}},
        {"data": {"name": "Fref"}, "transform": [{"filter": "datum.kind == 'ci'"}], "mark": {"type": "rule", "color": "#a6a6a6", "strokeWidth": 2.5, "strokeDash": [13, 14, 3, 10, 3, 15]}, "encoding": {"y": {"field": "y", "type": "quantitative"}}},
        {"data": {"name": "Fref"}, "transform": [{"filter": "datum.kind == 'mean'"}], "mark": {"type": "rule", "color": "#7c7c7c", "strokeWidth": 2}, "encoding": {"y": {"field": "y", "type": "quantitative"}}},
        {"data": {"name": "F"}, "mark": "point", "encoding": {"x": {"field": "x", "type": "quantitative"}, "y": {"field": "y", "type": "quantitative"}}},
        {"data": {"name": "Ffit"}, "mark": {"type": "line", "interpolate": "monotone"}, "encoding": {"x": {"field": "x", "type": "quantitative"}, "y": {"field": "y", "type": "quantitative"}}}
      ]
    }
  ]
}
